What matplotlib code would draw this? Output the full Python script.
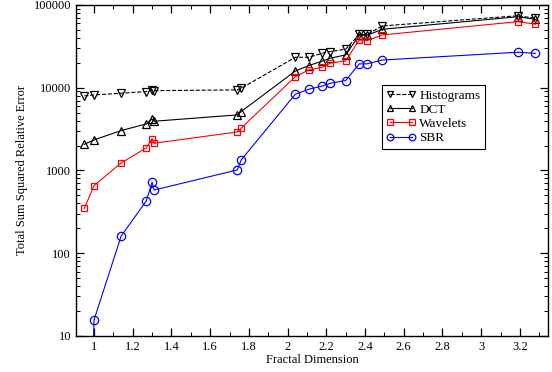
import matplotlib
matplotlib.use('Agg')
import matplotlib.pyplot as plt
import matplotlib.ticker as ticker
import numpy as np

# fractal dimension of each dataset (shared by all series)
fractal_dim = [0.95, 1.0, 1.14, 1.27, 1.30, 1.31, 1.74, 1.76, 2.04, 2.11,
               2.18, 2.22, 2.30, 2.37, 2.41, 2.49, 3.19, 3.28]

# total sum squared relative error per method
histograms = [7950, 8170, 8570, 8970, 9400, 9210, 9400, 9840, 23300, 23300,
              26100, 27300, 29200, 44000, 44000, 55700, 74000, 69000]
dct = [2070, 2340, 3030, 3650, 4190, 3930, 4690, 5140, 15900, 18500,
       21000, 22700, 24900, 43000, 43000, 50800, 72000, 67000]
wavelets = [349, 655, 1233, 1870, 2430, 2130, 2920, 3240, 13600, 16400,
            17700, 19800, 21100, 37800, 37100, 43400, 62800, 58400]
sbr = [0.001, 15.6, 161, 428, 720, 580, 1014, 1340, 8340, 9570,
       10500, 11300, 12200, 19400, 19400, 21600, 26800, 26000]

plt.rcParams['font.family'] = ['Liberation Serif', 'DejaVu Serif']

fig = plt.figure(figsize=(5.52, 3.72), dpi=100)
ax = fig.add_axes([0.1377, 0.0968, 0.855, 0.89])

ax.plot(fractal_dim, histograms, color='black', ls='--', lw=0.8, marker='v',
        ms=5.5, mfc='none', mew=0.9, label='Histograms')
ax.plot(fractal_dim, dct, color='black', lw=0.8, marker='^',
        ms=5.5, mfc='none', mew=0.9, label='DCT')
ax.plot(fractal_dim, wavelets, color='red', lw=0.8, marker='s',
        ms=5, mfc='none', mew=0.9, label='Wavelets')
ax.plot(fractal_dim, sbr, color='blue', lw=0.8, marker='o',
        ms=6, mfc='none', mew=0.9, label='SBR')

ax.set_yscale('log')
ax.set_xlim(0.907, 3.345)
ax.set_ylim(10, 100000)

ax.xaxis.set_major_locator(ticker.MultipleLocator(0.2))
ax.xaxis.set_minor_locator(ticker.MultipleLocator(0.1))
ax.xaxis.set_major_formatter(ticker.FormatStrFormatter('%g'))
ax.yaxis.set_major_formatter(ticker.FuncFormatter(lambda v, p: '%d' % round(v)))
ax.yaxis.set_minor_locator(ticker.LogLocator(base=10, subs=np.arange(2, 10), numticks=20))
ax.yaxis.set_minor_formatter(ticker.NullFormatter())

ax.tick_params(which='both', direction='in', top=True, right=True, labelsize=9)
ax.tick_params(which='major', length=6, width=0.9)
ax.tick_params(which='minor', length=3, width=0.7)
for s in ax.spines.values():
    s.set_linewidth(1.0)

ax.set_xlabel('Fractal Dimension', fontsize=9, labelpad=1)
ax.set_ylabel('Total Sum Squared Relative Error', fontsize=9, labelpad=4)

leg = ax.legend(loc='upper left', bbox_to_anchor=(0.634, 0.779), fontsize=9.5,
                numpoints=2, handlelength=2.2, handletextpad=0.3,
                labelspacing=0.15, borderpad=0.35, markerscale=0.8,
                fancybox=False, framealpha=1, edgecolor='black')
leg.get_frame().set_linewidth(0.8)

fig.savefig('out.png', dpi=100)
